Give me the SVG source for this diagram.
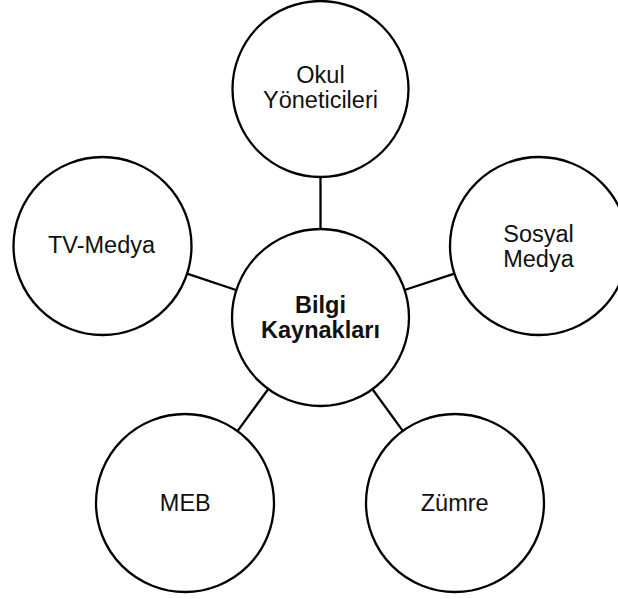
<svg xmlns="http://www.w3.org/2000/svg" width="618" height="599" viewBox="0 0 618 599">
  <style>
    .node circle { fill: #ffffff; stroke: #000000; stroke-width: 2.3; }
    .node text { font-family: "Liberation Sans", Arial, sans-serif; font-size: 23.5px; fill: #111111; text-anchor: middle; }
    .node text.hub { font-weight: bold; }
    #connectors line { stroke: #000000; stroke-width: 2.3; }
  </style>
  <rect width="618" height="599" fill="#ffffff"/>

  <!-- spokes from the hub to each source -->
  <g id="connectors">
    <line x1="320.5" y1="229" x2="320.5" y2="177"/>
    <line x1="236" y1="290" x2="187" y2="273.6"/>
    <line x1="404.6" y1="290" x2="454.4" y2="273.7"/>
    <line x1="268.3" y1="389" x2="237.5" y2="431.1"/>
    <line x1="372.5" y1="389.2" x2="402.8" y2="430.9"/>
  </g>

  <g id="hub" class="node">
    <circle cx="320.5" cy="317.5" r="88.5"/>
    <text class="hub" x="320.5" y="312.7">Bilgi</text>
    <text class="hub" x="320.5" y="337.7">Kaynakları</text>
  </g>

  <g id="okul-yoneticileri" class="node">
    <circle cx="320.5" cy="89" r="88"/>
    <text x="320.5" y="83.3">Okul</text>
    <text x="320.5" y="107.7">Yöneticileri</text>
  </g>

  <g id="tv-medya" class="node">
    <circle cx="102.5" cy="246" r="89"/>
    <text x="101.5" y="253.3">TV-Medya</text>
  </g>

  <g id="sosyal-medya" class="node">
    <circle cx="539" cy="246" r="89"/>
    <text x="538.5" y="241.7">Sosyal</text>
    <text x="538.5" y="266.7">Medya</text>
  </g>

  <g id="meb" class="node">
    <circle cx="185" cy="503" r="89"/>
    <text x="185.3" y="510.7">MEB</text>
  </g>

  <g id="zumre" class="node">
    <circle cx="455" cy="503" r="89"/>
    <text x="454.7" y="510.7">Zümre</text>
  </g>
</svg>
